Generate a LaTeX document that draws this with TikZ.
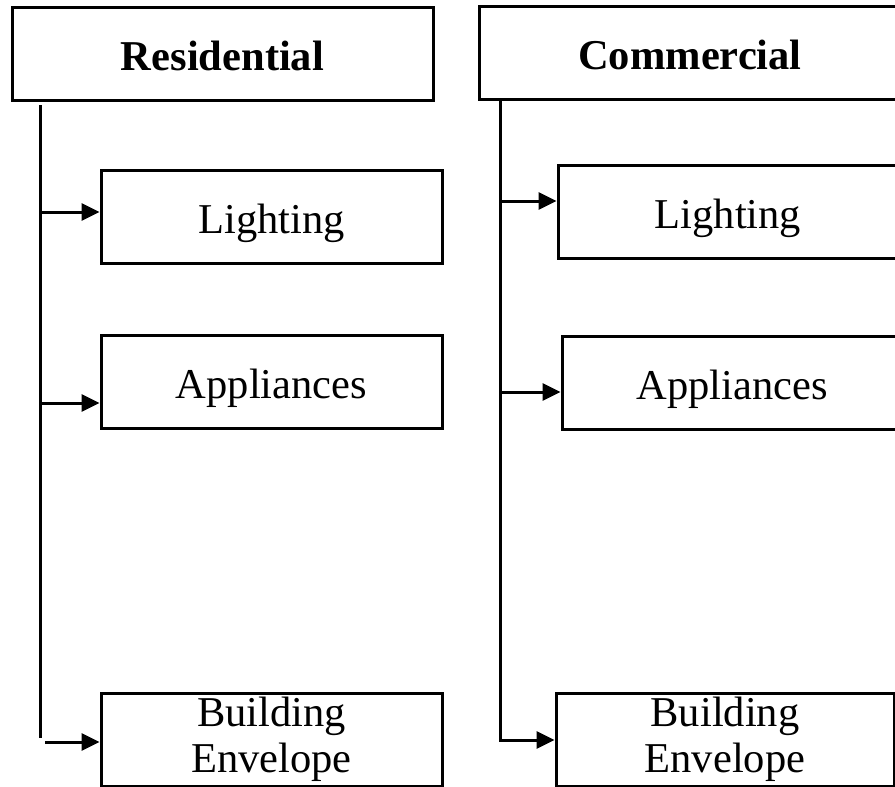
\documentclass[tikz,border=0pt]{standalone}
\usepackage{fontspec}
\setmainfont{Liberation Serif}
\usetikzlibrary{arrows.meta}
\begin{document}
\begin{tikzpicture}[x=1pt,y=-1pt,
  box/.style={draw,line width=3pt,inner sep=0pt,minimum height=93pt,
    align=center,font=\fontsize{42.5}{46}\selectfont},
  oneline/.style={text height=36pt,text depth=3pt},
  head/.style={box,oneline,font=\fontsize{42.5}{46}\selectfont\bfseries},
  link/.style={line width=3pt},
  feed/.style={link,-{Triangle[length=18pt,width=17pt]}}]
\useasboundingbox (0,0) rectangle (895,787);

% category headers
\node[head,minimum width=421pt] (res) at (222.5,54) {Residential};
\node[head,minimum width=422pt] (com) at (690,52.5) {Commercial};

% residential end uses
\node[box,oneline,minimum width=341pt] (rl) at (271.5,217) {Lighting};
\node[box,oneline,minimum width=341pt] (ra) at (271.5,382) {Appliances};
\node[box,minimum width=341pt] (rb) at (271.5,739.5) {Building\\Envelope};

% commercial end uses
\node[box,oneline,minimum width=340pt] (cl) at (728,211.5) {Lighting};
\node[box,oneline,minimum width=340pt] (ca) at (732,382.5) {Appliances};
\node[box,minimum width=338pt] (cb) at (725,739.5) {Building\\Envelope};

% residential trunk and branches
\coordinate (rt0) at (40,105);
\coordinate (rt1) at (40,212);
\coordinate (rt2) at (40,403);
\coordinate (rtend) at (40,738);
\coordinate (rt3) at (45,742);
\draw[link] (rt0) -- (rtend);
\draw[feed] (rt1) -- (rt1 -| rl.west);
\draw[feed] (rt2) -- (rt2 -| ra.west);
\draw[feed] (rt3) -- (rt3 -| rb.west);

% commercial trunk and branches
\coordinate (ct0) at (500,0);
\coordinate (ct1) at (500,201);
\coordinate (ct2) at (500,392);
\coordinate (ct3) at (500,740);
\draw[feed] (com.south -| ct0) -- (ct3) -- (ct3 -| cb.west);
\draw[feed] (ct1) -- (ct1 -| cl.west);
\draw[feed] (ct2) -- (ct2 -| ca.west);
\end{tikzpicture}
\end{document}
